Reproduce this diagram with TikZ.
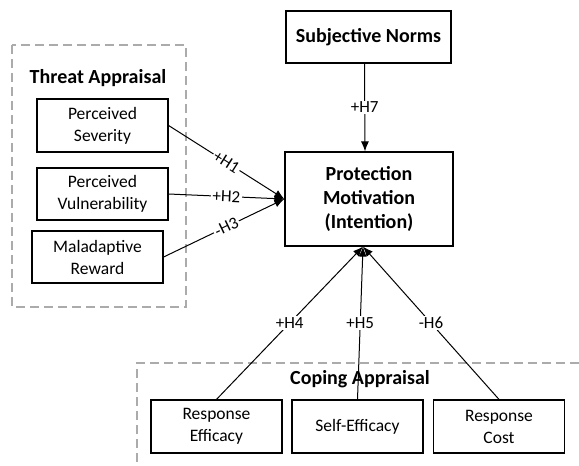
\documentclass[tikz,border=0pt]{standalone}
\usepackage{fontspec}
\setmainfont{Carlito}
\usetikzlibrary{arrows.meta}
\tikzset{
  box/.style={draw=black, line width=1.2pt, minimum width=131pt, minimum height=52pt, align=center, inner sep=0pt,
    font=\fontsize{17.5}{22}\selectfont},
  bigbox/.style={draw=black, line width=1.2pt, align=center, inner sep=0pt,
    font=\bfseries\fontsize{20}{24}\selectfont},
  title/.style={font=\bfseries\fontsize{20}{24}\selectfont, inner sep=1pt},
  grp/.style={draw=black!33, line width=1.2pt, dash pattern=on 9pt off 5pt},
  conn/.style={draw=black, line width=1pt, -{Latex[length=10pt,width=8pt]}},
  lab/.style={font=\fontsize{17}{19}\selectfont, fill=white, inner sep=1.5pt},
}
\begin{document}
\begin{tikzpicture}[x=1pt,y=-1pt]
\useasboundingbox (0,0) rectangle (579,466);
% group frames
\draw[grp] (12,45) rectangle (186,307);
\draw[grp] (579,363) -- (137,363) -- (137,466);
\node[title] (ta) at (98,78) {Threat Appraisal};
\node[title] (ca) at (360,379) {Coping Appraisal};
% boxes
\node[box, minimum height=53pt] (sev) at (102.5,125.5) {Perceived\\Severity};
\node[box] (vul) at (102.5,194) {Perceived\\Vulnerability};
\node[box] (mal) at (97.5,257) {Maladaptive\\Reward};
\node[bigbox, minimum width=168pt, minimum height=94pt] (pm) at (369,199) {Protection\\Motivation\\(Intention)};
\node[bigbox, minimum width=165pt, minimum height=52pt] (sn) at (368.5,37) {Subjective Norms};
\node[box, minimum height=53pt] (re) at (216.5,426.5) {Response\\Efficacy};
\node[box, minimum height=53pt] (se) at (357.5,426.5) {Self-Efficacy};
\node[box, minimum height=53pt] (rc) at (499,426.5) {Response\\Cost};
% tip points
\coordinate (tipL) at (pm.west);
\coordinate (tipB) at ([xshift=-6pt]pm.south);
% connectors
\draw[conn] (sev.east) -- node[lab, sloped, pos=0.5] {+H1} (tipL);
\draw[conn] (vul.east) -- node[lab, sloped, pos=0.5] {+H2} (tipL);
\draw[conn] (mal.east) -- node[lab, sloped, pos=0.52] {-H3} (tipL);
\draw[conn] ([xshift=-4pt]sn.south) -- node[lab, pos=0.5] {+H7} ([xshift=-4pt]pm.north);
\draw[conn] (re.north) -- node[lab, pos=0.5] {+H4} (tipB);
\draw[conn] (se.north) -- node[lab, pos=0.5] {+H5} (tipB);
\draw[conn] (rc.north) -- node[lab, pos=0.5] {-H6} (tipB);
\end{tikzpicture}
\end{document}
